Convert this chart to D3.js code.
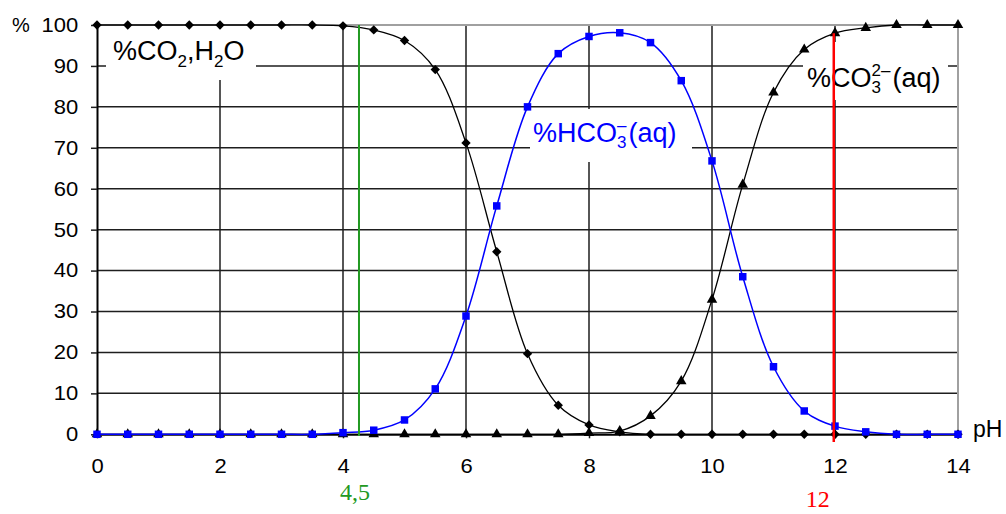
<!DOCTYPE html>
<html>
<head>
<meta charset="utf-8">
<script src="https://cdn.jsdelivr.net/npm/d3@7"></script>
<style>
  body { margin: 0; background: #fff; }
  svg { display: block; font-family: 'Liberation Sans', Arial, sans-serif; }
</style>
</head>
<body>
<svg width="1006" height="514"></svg>
<script>
// pH values (x) and the three species, in %
const phValues = [0, 0.5, 1, 1.5, 2, 2.5, 3, 3.5, 4, 4.5, 5, 5.5, 6, 6.5, 7,
  7.5, 8, 8.5, 9, 9.5, 10, 10.5, 11, 11.5, 12, 12.5, 13, 13.5, 14];
const co2Values = [100, 100, 100, 100, 100, 100, 100, 100, 99.8, 98.8, 96.2, 89.1, 71.2, 44.6, 19.7,
  7.1, 2.3, 0.6, 0, 0, 0, 0, 0, 0, 0, 0, 0, 0, 0];
const hco3Values = [0, 0, 0, 0, 0, 0, 0, 0, 0.4, 1.0, 3.5, 11.1, 28.9, 55.8, 80,
  93, 97.2, 98.1, 95.7, 86.4, 66.8, 38.5, 16.5, 5.7, 2.0, 0.6, 0, 0, 0];
const co3Values = [0, 0, 0, 0, 0, 0, 0, 0, 0, 0, 0, 0, 0, 0, 0,
  0, 0.3, 0.8, 4.5, 13.0, 32.9, 61, 83.5, 94, 98, 99.3, 100, 100, 100];

const xTicks = [0, 2, 4, 6, 8, 10, 12, 14];
const yTicks = [0, 10, 20, 30, 40, 50, 60, 70, 80, 90, 100];
const xGrid = [2, 4, 6, 8, 10, 12];
const yGrid = [10, 20, 30, 40, 50, 60, 70, 80, 90];

// vertical marks: pH, top value, bottom value, label
const markPh = [4.26, 11.98];
const markTop = [100, 98];
const markBottom = [-0.4, -1.9];
const markLabels = ['4,5', '12'];

const svg = d3.select('svg');
const x = d3.scaleLinear().domain([0, 14]).range([97, 958]);
const y = d3.scaleLinear().domain([0, 100]).range([434.3, 25]);

// grid
const grid = svg.append('g').attr('stroke', '#1e1e1e').attr('stroke-width', 1.5);
grid.selectAll('.hg').data(yGrid).enter().append('line')
    .attr('x1', x(0)).attr('x2', x(14))
    .attr('y1', d => y(d)).attr('y2', d => y(d));
grid.selectAll('.vg').data(xGrid).enter().append('line')
    .attr('x1', d => x(d)).attr('x2', d => x(d))
    .attr('y1', y(0)).attr('y2', y(100));

// frame top / right
svg.append('path')
    .attr('d', `M${x(0)},${y(100)}H${x(14)}V${y(0)}`)
    .attr('fill', 'none').attr('stroke', '#a0a0a0').attr('stroke-width', 2);

// white boxes behind the labels
const boxes = [[106, 29, 150, 51], [530, 109, 162, 53], [803, 42, 145, 58]];
svg.selectAll('.box').data(boxes).enter().append('rect')
    .attr('x', d => d[0]).attr('y', d => d[1])
    .attr('width', d => d[2]).attr('height', d => d[3])
    .attr('fill', '#fff');

// axes
const yAxis = svg.append('g')
    .attr('transform', `translate(${x(0)},0)`)
    .call(d3.axisLeft(y).tickValues(yTicks).tickSize(6).tickSizeOuter(0).tickPadding(11));
const xAxis = svg.append('g')
    .attr('transform', `translate(0,${y(0)})`)
    .call(d3.axisBottom(x).tickValues(xTicks).tickSize(4).tickSizeOuter(0).tickPadding(25));
[yAxis, xAxis].forEach(a => {
  a.select('.domain').attr('stroke', '#000').attr('stroke-width', 2);
  a.selectAll('.tick line').attr('stroke', '#1e1e1e').attr('stroke-width', 1.5);
  a.selectAll('.tick text')
      .attr('font-family', "'Liberation Sans', Arial, sans-serif")
      .attr('font-size', 20).attr('fill', '#000')
      .attr('transform', 'scale(1.1,1)');
});
xAxis.selectAll('.tick text').attr('dy', '0.5em');

svg.append('text').attr('x', 12).attr('y', 32)
    .attr('font-size', 20).text('%');
svg.append('text').attr('x', 973).attr('y', 437)
    .attr('font-size', 23).text('pH');

// curve labels
const lbl1 = svg.append('text').attr('x', 113).attr('y', 60).attr('font-size', 27);
lbl1.append('tspan').text('%CO');
lbl1.append('tspan').attr('font-size', 17).attr('dy', 7).text('2');
lbl1.append('tspan').attr('dy', -7).text(',H');
lbl1.append('tspan').attr('font-size', 17).attr('dy', 7).text('2');
lbl1.append('tspan').attr('dy', -7).text('O');

function stackedLabel(px, py, head, sub, sup, tail, color) {
  const t = svg.append('text').attr('x', px).attr('y', py)
      .attr('font-size', 27).attr('fill', color);
  t.append('tspan').text(head);
  const s = t.append('tspan').attr('font-size', 17).attr('dy', 6).text(sub);
  const w = s.node().getComputedTextLength();
  const p = t.append('tspan').attr('font-size', 17).attr('dx', -w).attr('dy', -17).text(sup);
  const wp = p.node().getComputedTextLength();
  t.append('tspan').attr('dy', 11).attr('dx', Math.max(0, w - wp) + 2).text(tail);
}
stackedLabel(533, 142, '%HCO', '3', '\u2013', '(aq)', '#0000ff');
stackedLabel(807, 87, '%CO', '3', '2\u2013', '(aq)', '#000');

// curves
const line = d3.line()
    .x(d => x(d[0])).y(d => y(d[1]))
    .curve(d3.curveCatmullRom.alpha(0.5));

const series = [
  { values: co2Values, color: '#000', width: 1.3, symbol: d3.symbolSquare, size: 44, rotate: 45 },
  { values: co3Values, color: '#000', width: 1.3, symbol: d3.symbolTriangle, size: 48, rotate: 0 },
  { values: hco3Values, color: '#0000ff', width: 1.5, symbol: d3.symbolSquare, size: 56, rotate: 0 }
];

series.forEach(s => {
  const pts = phValues.map((p, i) => [p, s.values[i]]);
  svg.append('path').datum(pts)
      .attr('d', line).attr('fill', 'none')
      .attr('stroke', s.color).attr('stroke-width', s.width);
  svg.append('g').selectAll('path').data(pts).enter().append('path')
      .attr('d', d3.symbol(s.symbol, s.size))
      .attr('transform', d => `translate(${x(d[0])},${y(d[1])}) rotate(${s.rotate})`)
      .attr('fill', s.color);
});

// vertical marks
const markColors = ['#229922', '#ff0000'];
const markWidths = [2, 2.5];
const markLabelDx = [-4, -16];
const markLabelY = [500, 507];
markPh.forEach((p, i) => {
  svg.append('line')
      .attr('x1', x(p)).attr('x2', x(p))
      .attr('y1', y(markTop[i])).attr('y2', y(markBottom[i]))
      .attr('stroke', markColors[i]).attr('stroke-width', markWidths[i]);
  svg.append('text')
      .attr('x', x(p) + markLabelDx[i]).attr('y', markLabelY[i])
      .attr('text-anchor', 'middle')
      .attr('font-family', "'Liberation Serif', 'Times New Roman', serif")
      .attr('font-size', 24).attr('fill', markColors[i])
      .text(markLabels[i]);
});
</script>
</body>
</html>
